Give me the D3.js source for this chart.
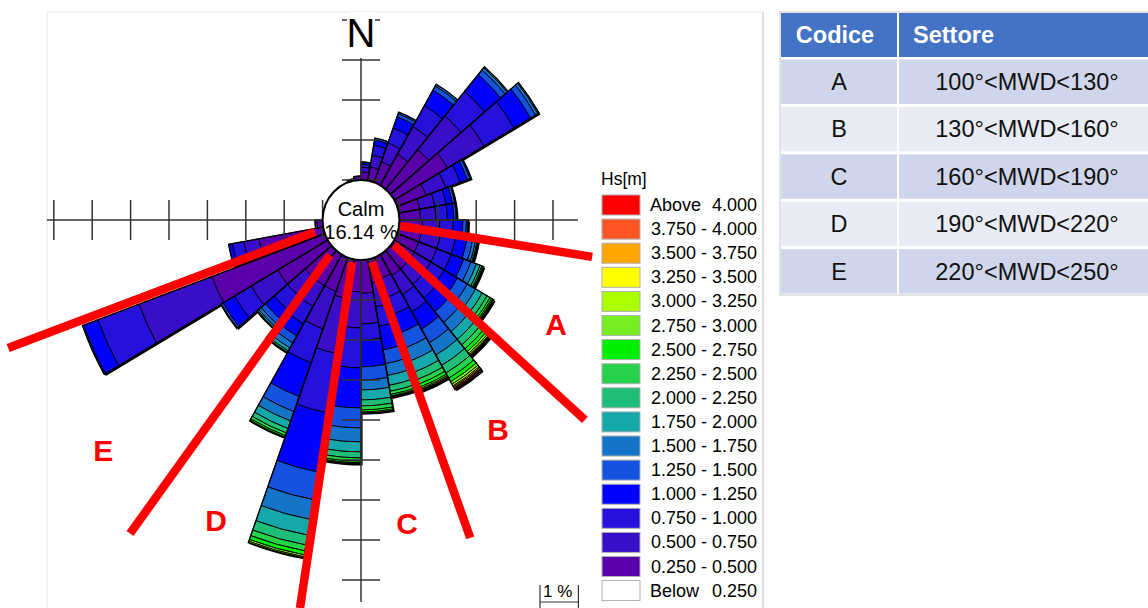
<!DOCTYPE html>
<html>
<head>
<meta charset="utf-8">
<script src="https://cdn.jsdelivr.net/npm/d3@7"></script>
<style>
body{margin:0;background:#fff;}
text{font-family:"Liberation Sans",Arial,sans-serif;}
</style>
</head>
<body>
<svg id="chart" width="1148" height="608"></svg>
<script>
// direction bins (start angle, 10 deg wide)
var dirStart = d3.range(0, 360, 10);
var calmPct = 16.14;

// frequency (%) per Hs class, one value per direction bin 0..350
var f025 = [0.2,0.35,0.55,0.9,1.3,1.6,0.8,0.55,0.55,0.6,0.6,0.6,0.6,0.6,0.6,0.55,0.6,0.83,0.8,1.0,0.9,0.9,0.9,1.5,3.13,1.7,0.15,0,0,0,0,0,0,0,0.05,0.1];
var f050 = [0.12,0.3,0.5,0.8,1.1,1.1,0.55,0.4,0.4,0.45,0.5,0.5,0.5,0.5,0.55,0.5,0.6,0.77,0.9,1.4,1.0,0.6,0.6,0.8,2.02,0.4,0.05,0,0,0,0,0,0,0,0,0];
var f075 = [0.08,0.25,0.4,0.6,0.8,0.9,0.4,0.3,0.3,0.35,0.4,0.4,0.4,0.45,0.5,0.45,0.5,0.4,1.0,1.5,0.9,0.5,0.45,0.5,1.14,0.3,0,0,0,0,0,0,0,0,0,0];
var f100 = [0.05,0.13,0.3,0.45,0.55,0.5,0.2,0.17,0.17,0.25,0.3,0.35,0.4,0.45,0.5,0.5,0.6,0.67,1.0,1.5,0.9,0.35,0.3,0.35,0.4,0.1,0,0,0,0,0,0,0,0,0,0];
var f125 = [0,0.05,0.08,0.12,0.15,0.15,0.07,0.06,0.06,0.1,0.15,0.2,0.3,0.35,0.4,0.4,0.35,0.33,0.5,0.7,0.4,0.2,0.15,0.05,0.03,0,0,0,0,0,0,0,0,0,0,0];
var f150 = [0,0,0.04,0.05,0.07,0.07,0.03,0.02,0.02,0.04,0.08,0.15,0.25,0.3,0.35,0.35,0.3,0.25,0.35,0.5,0.25,0.15,0.08,0.02,0,0,0,0,0,0,0,0,0,0,0,0];
var f175 = [0,0,0,0,0.03,0.03,0,0,0,0.01,0.04,0.1,0.2,0.25,0.3,0.3,0.25,0.25,0.25,0.4,0.2,0.08,0.04,0,0,0,0,0,0,0,0,0,0,0,0,0];
var f200 = [0,0,0,0,0,0,0,0,0,0,0.02,0.05,0.14,0.18,0.22,0.2,0.15,0.15,0.15,0.25,0.12,0.04,0.02,0,0,0,0,0,0,0,0,0,0,0,0,0];
var f225 = [0,0,0,0,0,0,0,0,0,0,0.01,0.03,0.09,0.13,0.15,0.12,0.08,0.1,0.08,0.15,0.07,0.02,0.01,0,0,0,0,0,0,0,0,0,0,0,0,0];
var f250 = [0,0,0,0,0,0,0,0,0,0,0,0.02,0.05,0.09,0.1,0.08,0.04,0.05,0.04,0.1,0.04,0.01,0,0,0,0,0,0,0,0,0,0,0,0,0,0];
var f275 = [0,0,0,0,0,0,0,0,0,0,0,0,0.03,0.06,0.07,0.04,0.02,0.03,0.02,0.05,0.02,0,0,0,0,0,0,0,0,0,0,0,0,0,0,0];
var f300 = [0,0,0,0,0,0,0,0,0,0,0,0,0.02,0.04,0.05,0.03,0.01,0,0.01,0.03,0,0,0,0,0,0,0,0,0,0,0,0,0,0,0,0];
var f325 = [0,0,0,0,0,0,0,0,0,0,0,0,0.01,0.02,0.03,0.02,0,0,0,0,0,0,0,0,0,0,0,0,0,0,0,0,0,0,0,0];
var f350 = [0,0,0,0,0,0,0,0,0,0,0,0,0.01,0.01,0.03,0.01,0,0,0,0,0,0,0,0,0,0,0,0,0,0,0,0,0,0,0,0];
var f375 = [0,0,0,0,0,0,0,0,0,0,0,0,0,0.01,0.02,0.01,0,0,0,0,0,0,0,0,0,0,0,0,0,0,0,0,0,0,0,0];
var f400 = [0,0,0,0,0,0,0,0,0,0,0,0,0,0.02,0.03,0,0,0,0,0,0,0,0,0,0,0,0,0,0,0,0,0,0,0,0,0];

var classFreq = [f025,f050,f075,f100,f125,f150,f175,f200,f225,f250,f275,f300,f325,f350,f375,f400];
var classColors = ['#5a00aa','#3a0ec8','#2412dc','#0000ff','#1452e0','#1474c8','#14a8aa','#1ebe78','#26d24a','#00ee00','#77ee22','#aaff00','#ffff00','#ffa500','#ff5522','#ff0000'];

var legendLabels = ['3.750 - 4.000','3.500 - 3.750','3.250 - 3.500','3.000 - 3.250','2.750 - 3.000','2.500 - 2.750','2.250 - 2.500','2.000 - 2.250','1.750 - 2.000','1.500 - 1.750','1.250 - 1.500','1.000 - 1.250','0.750 - 1.000','0.500 - 0.750','0.250 - 0.500'];

// axis ticks (in % rings, ring 1 = calm circle edge)
var ticksLeft = d3.range(1, 9), ticksRight = d3.range(1, 6);
var ticksUp = d3.range(1, 6), ticksDown = d3.range(1, 10);

// red sector boundaries drawn over the rose: [angle, ring] at start and end
var boundStartAng = [98.4,126,164.6,192.4,222.8,256];
var boundStartR   = [1.03,1.06,1.09,1.08,1.19,1.24];
var boundEndAng   = [98.7,130.6,160.3,189.3,217.5,250.8];
var boundEndR     = [6.09,7.68,8.44,9.83,9.88,9.73];
var sectorCodes = ['A','B','C','D','E'];
var codeAng = [117.1,145.7,171,206.7,229.4];
var codeR   = [5.71,6.33,7.67,8.4,8.84];
var sectorRanges = ['100°<MWD<130°','130°<MWD<160°','160°<MWD<190°','190°<MWD<220°','220°<MWD<250°'];

var cx = 361, cy = 220, kx = 38.4, ky = 40;
var svg = d3.select('#chart');
var rad = function(a){ return a*Math.PI/180; };
var ring = d3.scaleLinear().domain([0,1]).range([1,2]); // % -> ring units
var px = function(r,a){ return cx + kx*r*Math.sin(rad(a)); };
var py = function(r,a){ return cy - ky*r*Math.cos(rad(a)); };

// frame
svg.append('line').attr('x1',47).attr('y1',12).attr('x2',763).attr('y2',12).style('stroke','#e6e6e6');
svg.append('line').attr('x1',47).attr('y1',12).attr('x2',47).attr('y2',608).style('stroke','#e6e6e6');
svg.append('line').attr('x1',763).attr('y1',12).attr('x2',763).attr('y2',608).style('stroke','#bdbdbd');

// build stacked segments
var segs = [], totals = [];
dirStart.forEach(function(a,i){
    var cum = 0;
    classFreq.forEach(function(arr,k){
        var v = arr[i];
        if(v>0){ segs.push({a:a,k:k,r0:ring(cum),r1:ring(cum+v)}); cum += v; }
    });
    if(cum>0) totals.push({a:a,r0:1,r1:ring(cum)});
});

var arc = d3.arc()
    .innerRadius(function(d){return d.r0;})
    .outerRadius(function(d){return d.r1;})
    .startAngle(function(d){return rad(d.a);})
    .endAngle(function(d){return rad(d.a+10);});

// shadow
svg.append('g')
    .attr('transform','translate('+(cx+1.6)+','+(cy+1.6)+') scale('+kx+','+ky+')')
    .selectAll('path').data(totals).enter().append('path')
    .attr('d',arc).style('fill','#000');

var rose = svg.append('g').attr('transform','translate('+cx+','+cy+') scale('+kx+','+ky+')');
rose.selectAll('path.seg').data(segs).enter().append('path')
    .attr('class','seg')
    .attr('d',arc)
    .style('fill',function(d){return classColors[d.k];})
    .style('stroke','#000').style('stroke-width',0.9)
    .attr('vector-effect','non-scaling-stroke');
rose.selectAll('path.tot').data(totals).enter().append('path')
    .attr('class','tot')
    .attr('d',arc)
    .style('fill','none')
    .style('stroke','#000').style('stroke-width',1.3)
    .attr('vector-effect','non-scaling-stroke');

// axes
var ax = svg.append('g').style('stroke','#333').style('stroke-width',1.5);
ax.append('line').attr('x1',cx-kx*8.18).attr('x2',cx+kx*5.65).attr('y1',cy).attr('y2',cy);
ax.append('line').attr('x1',cx).attr('x2',cx).attr('y1',cy-ky*4.05).attr('y2',cy+ky*9.55);
ticksLeft.forEach(function(r){ ax.append('line').attr('x1',cx-kx*r).attr('x2',cx-kx*r).attr('y1',cy-20).attr('y2',cy+20); });
ticksRight.forEach(function(r){ ax.append('line').attr('x1',cx+kx*r).attr('x2',cx+kx*r).attr('y1',cy-20).attr('y2',cy+20); });
ticksUp.forEach(function(r){ ax.append('line').attr('x1',cx-19).attr('x2',cx+19).attr('y1',cy-ky*r).attr('y2',cy-ky*r); });
ticksDown.forEach(function(r){ ax.append('line').attr('x1',cx-19).attr('x2',cx+19).attr('y1',cy+ky*r).attr('y2',cy+ky*r); });

// N label
svg.append('rect').attr('x',cx-14).attr('y',cy-ky*5.2).attr('width',28).attr('height',40).style('fill','#fff');
svg.append('text').attr('x',cx).attr('y',47).attr('text-anchor','middle')
    .style('font-size','40px').text('N');

// calm circle
svg.append('ellipse').attr('cx',cx).attr('cy',cy).attr('rx',kx).attr('ry',ky)
    .style('fill','#fff').style('stroke','#000').style('stroke-width',2);
svg.append('text').attr('x',cx).attr('y',216).attr('text-anchor','middle').style('font-size','20px').text('Calm');
svg.append('text').attr('x',cx).attr('y',239).attr('text-anchor','middle').style('font-size','20px').text(calmPct.toFixed(2)+' %');

// red boundaries
boundStartAng.forEach(function(a,i){
    svg.append('line')
        .attr('x1',px(boundStartR[i],a)).attr('y1',py(boundStartR[i],a))
        .attr('x2',px(boundEndR[i],boundEndAng[i])).attr('y2',py(boundEndR[i],boundEndAng[i]))
        .style('stroke','#ff0000').style('stroke-width',8.5);
});
sectorCodes.forEach(function(c,i){
    svg.append('text')
        .attr('x',px(codeR[i],codeAng[i])).attr('y',py(codeR[i],codeAng[i])+11)
        .attr('text-anchor','middle')
        .style('font-size','30px').style('font-weight','bold').style('fill','#ff0000')
        .text(c);
});

// scale bar
var sb = svg.append('g').style('stroke','#333').style('stroke-width',1.2);
sb.append('line').attr('x1',540).attr('x2',540+kx).attr('y1',602).attr('y2',602);
sb.append('line').attr('x1',540).attr('x2',540).attr('y1',585).attr('y2',608);
sb.append('line').attr('x1',540+kx).attr('x2',540+kx).attr('y1',585).attr('y2',608);
svg.append('text').attr('x',543).attr('y',597).style('font-size','17px').text('1 %');

// legend
var lg = svg.append('g');
lg.append('text').attr('x',601).attr('y',185).style('font-size','17.5px').text('Hs[m]');
var legColors = classColors.slice().reverse().concat(['#ffffff']);
legColors.forEach(function(c,i){
    var y0 = 195 + i*24.1;
    lg.append('rect').attr('x',602).attr('y',y0).attr('width',38).attr('height',20)
        .style('fill',c).style('stroke','#b0b0b0').style('stroke-width',1);
    if(i===0){
        lg.append('text').attr('x',650).attr('y',y0+16).style('font-size','18px').text('Above');
        lg.append('text').attr('x',757).attr('y',y0+16).attr('text-anchor','end').style('font-size','18px').text('4.000');
    } else if(i===legColors.length-1){
        lg.append('text').attr('x',650).attr('y',y0+16).style('font-size','18px').text('Below');
        lg.append('text').attr('x',757).attr('y',y0+16).attr('text-anchor','end').style('font-size','18px').text('0.250');
    } else {
        lg.append('text').attr('x',757).attr('y',y0+16).attr('text-anchor','end').style('font-size','18px').text(legendLabels[i-1]);
    }
});

// table
var tb = svg.append('g');
var tx0 = 780, tcol = 898, tx1 = 1160, rowH = 47.4, headH = 46, ty0 = 12;
tb.append('rect').attr('x',tx0).attr('y',ty0).attr('width',tx1-tx0).attr('height',headH+rowH*5)
    .style('fill','#fff').style('stroke','#c8c8c8');
tb.append('rect').attr('x',tx0+1).attr('y',ty0+1).attr('width',tcol-tx0-2).attr('height',headH-2).style('fill','#4472c4');
tb.append('rect').attr('x',tcol+1).attr('y',ty0+1).attr('width',tx1-tcol).attr('height',headH-2).style('fill','#4472c4');
tb.append('text').attr('x',835).attr('y',ty0+31).attr('text-anchor','middle')
    .style('font-size','23.5px').style('font-weight','bold').style('fill','#fff').text('Codice');
tb.append('text').attr('x',913).attr('y',ty0+31)
    .style('font-size','23.5px').style('font-weight','bold').style('fill','#fff').text('Settore');
sectorCodes.forEach(function(c,i){
    var y0 = ty0 + headH + i*rowH;
    var fill = i%2===0 ? '#cfd5ea' : '#e9ebf5';
    tb.append('rect').attr('x',tx0+1).attr('y',y0+1.5).attr('width',tcol-tx0-2).attr('height',rowH-3).style('fill',fill);
    tb.append('rect').attr('x',tcol+1).attr('y',y0+1.5).attr('width',tx1-tcol).attr('height',rowH-3).style('fill',fill);
    tb.append('text').attr('x',839).attr('y',y0+32).attr('text-anchor','middle').style('font-size','23.5px').style('fill','#111').text(c);
    tb.append('text').attr('x',1027).attr('y',y0+32).attr('text-anchor','middle').style('font-size','23.5px').style('fill','#111').text(sectorRanges[i]);
});
</script>
</body>
</html>
